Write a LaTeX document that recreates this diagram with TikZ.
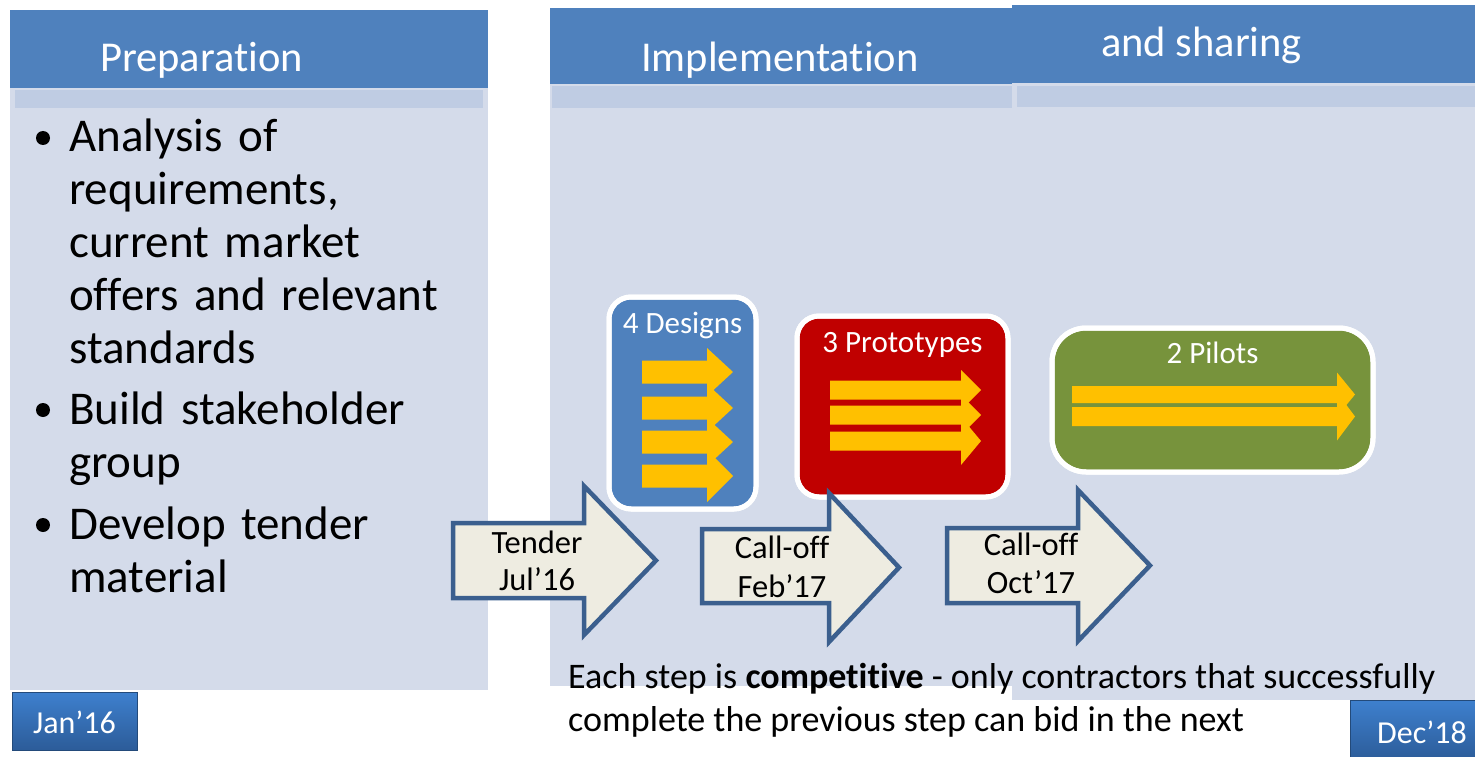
\documentclass[tikz,border=0pt]{standalone}
\usepackage{fontspec}
\setmainfont{Carlito}[Ligatures=NoCommon]
\definecolor{hdr}{HTML}{4F81BD}
\definecolor{panelbody}{HTML}{D4DBEA}
\definecolor{panelband}{HTML}{BFCCE3}
\definecolor{gold}{HTML}{FFC000}
\definecolor{redbox}{HTML}{C00000}
\definecolor{greenbox}{HTML}{77933C}
\definecolor{arrowfill}{HTML}{EEECE1}
\definecolor{arrowline}{HTML}{3B5F8E}
\definecolor{datetop}{HTML}{3E80CE}
\definecolor{datebot}{HTML}{2C5C99}
\tikzset{
  headtext/.style={anchor=base west, inner sep=0pt, text=white, font=\fontsize{42.5}{50}\selectfont},
  bullettext/.style={anchor=base west, inner sep=0pt, text width=420pt,
    font=\fontsize{47}{53}\selectfont},
  bulletdot/.style={circle, fill=black, inner sep=0pt, minimum size=14pt},
  stagebox/.style={draw=white, line width=5pt, rounded corners=22pt},
  stagetitle/.style={anchor=base, inner sep=0pt, text=white, font=\fontsize{31}{37}\selectfont},
  bigarrow/.style={draw=arrowline, fill=arrowfill, line width=4.5pt, line join=miter},
  arrowtext/.style={anchor=base, inner sep=0pt, font=\fontsize{32.5}{37}\selectfont},
  datebox/.style={top color=datetop, bottom color=datebot, draw=datebot!80!black, line width=0.6pt},
  datetext/.style={anchor=base, inner sep=0pt, text=white, font=\fontsize{32}{38}\selectfont},
  notetext/.style={anchor=base west, inner sep=0pt, font=\fontsize{36}{43}\selectfont},
}
% yellow block arrow: start x, head base x, tip x, centre y, half shaft, half head
\newcommand\goldarrow[6]{%
  \fill[gold] ({#1},{#4-#5}) -- ({#2},{#4-#5}) -- ({#2},{#4-#6}) -- ({#3},{#4})
    -- ({#2},{#4+#6}) -- ({#2},{#4+#5}) -- ({#1},{#4+#5}) -- cycle;}
% outlined block arrow: left x, head base x, tip x, shaft top, shaft bottom, head top, head bottom
\newcommand\blockarrow[7]{%
  \draw[bigarrow] ({#1},{#4}) -- ({#2},{#4}) -- ({#2},{#6}) -- ({#3},{(#6+#7)/2})
    -- ({#2},{#7}) -- ({#2},{#5}) -- ({#1},{#5}) -- cycle;}
\begin{document}
\begin{tikzpicture}[x=1pt,y=-1pt]
\useasboundingbox[fill=white] (0,0) rectangle (1475,757);

% ---- phase panels ----
% preparation
\fill[panelbody] (10,10) rectangle (488,690);
\fill[panelband] (15,90) rectangle (483,108);
\fill[hdr] (10,10) rectangle (488,88);
% implementation
\fill[panelbody] (550,8) rectangle (1012,686);
\fill[panelband] (552,86) rectangle (1012,108);
\fill[hdr] (550,8) rectangle (1012,84);
% sharing
\fill[panelbody] (1012,5) rectangle (1475,700);
\fill[panelband] (1017,86) rectangle (1475,107);
\fill[hdr] (1012,5) rectangle (1475,83);

\node[headtext] (prep) at (100,72) {Preparation};
\node[headtext] (impl) at (641,72) {Implementation};
\node[headtext] (share) at (1101,57) {and sharing};

% ---- preparation tasks ----
\node[bulletdot] (b1) at (43,138) {};
\node[bullettext] (t1) at (69,152) {Analysis of\\requirements,\\current market\\offers and relevant\\standards};
\node[bulletdot] (b2) at (43,410) {};
\node[bullettext] (t2) at (69,424) {Build stakeholder\\group};
\node[bulletdot] (b3) at (43,525) {};
\node[bullettext] (t3) at (69,539) {Develop tender\\material};

% ---- stage boxes ----
\fill[stagebox, fill=hdr] (609,297) rectangle (756,509);
\draw[stagebox] (609,297) rectangle (756,509);
\node[stagetitle] (designs) at (682.5,333) {4 Designs};
\goldarrow{642}{707}{733}{372}{11.5}{24}
\goldarrow{642}{707}{733}{408}{11.5}{24}
\goldarrow{642}{707}{733}{442}{11.5}{24}
\goldarrow{642}{707}{733}{476}{11.5}{26}

\fill[stagebox, fill=redbox] (797,316) rectangle (1008,497);
\draw[stagebox] (797,316) rectangle (1008,497);
\node[stagetitle] (protos) at (902.5,352) {3 Prototypes};
\goldarrow{830}{961}{981}{390}{9.5}{20}
\goldarrow{830}{961}{981}{415}{9.5}{20}
\goldarrow{830}{961}{981}{441}{9.5}{24}

\fill[stagebox, rounded corners=34pt, fill=greenbox] (1052,328) rectangle (1373,472);
\draw[stagebox, rounded corners=34pt] (1052,328) rectangle (1373,472);
\node[stagetitle] (pilots) at (1212.5,363) {2 Pilots};
\goldarrow{1072}{1337}{1355}{394.5}{8.5}{22}
\goldarrow{1072}{1337}{1355}{416.5}{9.5}{24}

% ---- procurement milestones ----
\blockarrow{453}{584}{656}{523}{598}{486}{635}
\node[arrowtext] (tender) at (537,553) {Tender};
\node[arrowtext] (jul) at (537,590) {Jul’16};

\blockarrow{702}{829}{899}{529}{603}{493}{642}
\node[arrowtext] (calloff1) at (782,558) {Call-off};
\node[arrowtext] (feb) at (782,597) {Feb’17};

\blockarrow{947}{1078}{1150}{528}{603}{490}{641}
\node[arrowtext] (calloff2) at (1031,555) {Call-off};
\node[arrowtext] (oct) at (1031,593) {Oct’17};

% ---- note ----
\node[notetext] (note1) at (568,688) {Each step is \textbf{competitive} - only contractors that successfully};
\node[notetext] (note2) at (568,731) {complete the previous step can bid in the next};

% ---- start and end dates ----
\fill[datebox] (12,692) rectangle (137,750);
\node[datetext] (jan) at (74.5,733) {Jan’16};
\fill[datebox] (1350,700) rectangle (1478,760);
\node[datetext] (dec) at (1422,743) {Dec’18};
\end{tikzpicture}
\end{document}
